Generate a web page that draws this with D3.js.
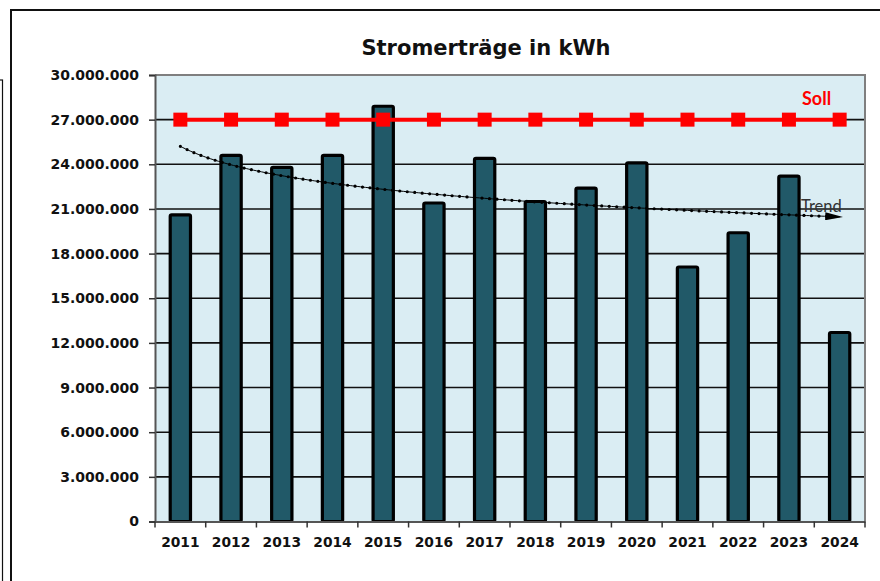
<!DOCTYPE html>
<html>
<head>
<meta charset="utf-8">
<script src="https://cdn.jsdelivr.net/npm/d3@7"></script>
<style>
  body { margin: 0; background: #fff; }
  svg { display: block; }
  .axis text { font-family: "DejaVu Sans", Verdana, sans-serif; font-weight: bold; fill: #111; }
</style>
</head>
<body>
<div id="chart"></div>
<script>
// data
const years = ['2011', '2012', '2013', '2014', '2015', '2016', '2017', '2018', '2019', '2020', '2021', '2022', '2023', '2024'];
const ertrag = [20600000, 24600000, 23800000, 24600000, 27900000, 21400000, 24400000, 21500000, 22400000, 24100000, 17100000, 19400000, 23200000, 12700000];
const soll = [27000000, 27000000, 27000000, 27000000, 27000000, 27000000, 27000000, 27000000, 27000000, 27000000, 27000000, 27000000, 27000000, 27000000];
const yTicks = [0, 3000000, 6000000, 9000000, 12000000, 15000000, 18000000, 21000000, 24000000, 27000000, 30000000];

const W = 880, H = 581;
const plot = { left: 155, right: 865, top: 75, bottom: 521.5 };

const svg = d3.select('#chart').append('svg')
  .attr('width', W)
  .attr('height', H);

// outer frames
svg.append('rect')
  .attr('x', 11).attr('y', 10)
  .attr('width', 1000).attr('height', 1000)
  .attr('fill', 'none').attr('stroke', '#111').attr('stroke-width', 2);
svg.append('rect')
  .attr('x', -100).attr('y', 80)
  .attr('width', 102.5).attr('height', 1000)
  .attr('fill', 'none').attr('stroke', '#111').attr('stroke-width', 1.2);

const x = d3.scaleBand()
  .domain(years)
  .range([plot.left, plot.right])
  .padding(0);

const y = d3.scaleLinear()
  .domain([0, 30000000])
  .range([plot.bottom, plot.top]);

// plot background
svg.append('rect')
  .attr('x', plot.left).attr('y', plot.top)
  .attr('width', plot.right - plot.left)
  .attr('height', plot.bottom - plot.top)
  .attr('fill', '#daedf3');

// gridlines
svg.append('g')
  .selectAll('line')
  .data(yTicks.filter(d => d > 0 && d < 30000000))
  .join('line')
  .attr('x1', plot.left).attr('x2', plot.right)
  .attr('y1', d => y(d)).attr('y2', d => y(d))
  .attr('stroke', '#111').attr('stroke-width', 1.6);

// plot border top / right
svg.append('path')
  .attr('d', `M${plot.left},${plot.top}H${plot.right}V${plot.bottom}`)
  .attr('fill', 'none').attr('stroke', '#7f7f7f').attr('stroke-width', 2);

// bars
const barW = x.bandwidth() * 0.4;
svg.append('g')
  .selectAll('rect')
  .data(years)
  .join('rect')
  .attr('x', d => x(d) + (x.bandwidth() - barW) / 2)
  .attr('y', (d, i) => y(ertrag[i]))
  .attr('width', barW)
  .attr('height', (d, i) => y(0) - y(ertrag[i]))
  .attr('rx', 1.5)
  .attr('fill', '#215968')
  .attr('stroke', '#000')
  .attr('stroke-width', 3.2);

// axes
const yAxis = d3.axisLeft(y).tickValues(yTicks).tickSize(6).tickPadding(10)
  .tickFormat(d => d3.format(',')(d).replace(/,/g, '.'));
const gy = svg.append('g')
  .attr('class', 'axis')
  .attr('transform', `translate(${plot.left},0)`)
  .call(yAxis);
gy.selectAll('text').style('font-size', '14px');
gy.selectAll('line').attr('stroke', '#333').attr('stroke-width', 1.5);
gy.select('.domain').attr('stroke', '#555').attr('stroke-width', 2);

const xAxis = d3.axisBottom(x).tickSize(0).tickPadding(16);
const gx = svg.append('g')
  .attr('class', 'axis')
  .attr('transform', `translate(0,${plot.bottom})`)
  .call(xAxis);
gx.selectAll('text').style('font-size', '13.8px');
gx.select('.domain').attr('stroke', '#555').attr('stroke-width', 2);
// ticks between categories
gx.selectAll('.sep')
  .data(years.concat(['end']))
  .join('line')
  .attr('class', 'sep')
  .attr('x1', (d, i) => plot.left + i * x.step())
  .attr('x2', (d, i) => plot.left + i * x.step())
  .attr('y1', 0).attr('y2', 6)
  .attr('stroke', '#333').attr('stroke-width', 1.5);

// Soll line
const sollLine = d3.line()
  .x((d, i) => x(years[i]) + x.bandwidth() / 2)
  .y(d => y(d));
svg.append('path')
  .datum(soll)
  .attr('d', sollLine)
  .attr('fill', 'none')
  .attr('stroke', '#ff0000')
  .attr('stroke-width', 4);
svg.append('g')
  .selectAll('rect')
  .data(soll)
  .join('rect')
  .attr('x', (d, i) => x(years[i]) + x.bandwidth() / 2 - 7)
  .attr('y', d => y(d) - 7)
  .attr('width', 14).attr('height', 14)
  .attr('fill', '#ff0000');

// logarithmic trend (least squares on ln of index), like Excel
const lnX = ertrag.map((d, i) => Math.log(i + 1));
const mx = d3.mean(lnX), my = d3.mean(ertrag);
const b = d3.sum(lnX, (l, i) => (l - mx) * (ertrag[i] - my)) / d3.sum(lnX, l => (l - mx) ** 2);
const a = my - b * mx;
const xLin = d3.scaleLinear()
  .domain([1, years.length])
  .range([x(years[0]) + x.bandwidth() / 2, x(years[years.length - 1]) + x.bandwidth() / 2]);
const trendPts = d3.range(1, years.length + 0.001, 0.05).map(t => [xLin(t), y(a + b * Math.log(t))]);

svg.append('defs').append('marker')
  .attr('id', 'arrow')
  .attr('viewBox', '0 0 10 10')
  .attr('refX', 8).attr('refY', 5)
  .attr('markerWidth', 18).attr('markerHeight', 8)
  .attr('markerUnits', 'userSpaceOnUse')
  .attr('orient', 'auto')
  .attr('preserveAspectRatio', 'none')
  .append('path')
  .attr('d', 'M0,0L10,5L0,10Z')
  .attr('fill', '#000');

svg.append('path')
  .datum(trendPts)
  .attr('d', d3.line())
  .attr('fill', 'none')
  .attr('stroke', '#000')
  .attr('stroke-width', 1)
  .attr('marker-end', 'url(#arrow)');
svg.append('path')
  .datum(trendPts)
  .attr('d', d3.line())
  .attr('fill', 'none')
  .attr('stroke', '#000')
  .attr('stroke-width', 3.2)
  .attr('stroke-linecap', 'round')
  .attr('stroke-dasharray', '0,7.5');

// labels
svg.append('text')
  .attr('x', 486).attr('y', 55)
  .attr('text-anchor', 'middle')
  .style('font-family', '"DejaVu Sans", Verdana, sans-serif')
  .style('font-weight', 'bold')
  .style('font-size', '21px')
  .style('fill', '#111')
  .text('Stromerträge in kWh');

svg.append('text')
  .attr('x', 802).attr('y', 105)
  .style('font-family', 'Lato, "Open Sans", sans-serif')
  .style('font-weight', 'bold')
  .style('font-size', '18px')
  .style('fill', '#ff0000')
  .text('Soll');

svg.append('text')
  .attr('x', 801).attr('y', 212)
  .style('font-family', 'Lato, "Open Sans", sans-serif')
  .style('font-size', '16.5px')
  .style('fill', '#333')
  .text('Trend');
</script>
</body>
</html>
